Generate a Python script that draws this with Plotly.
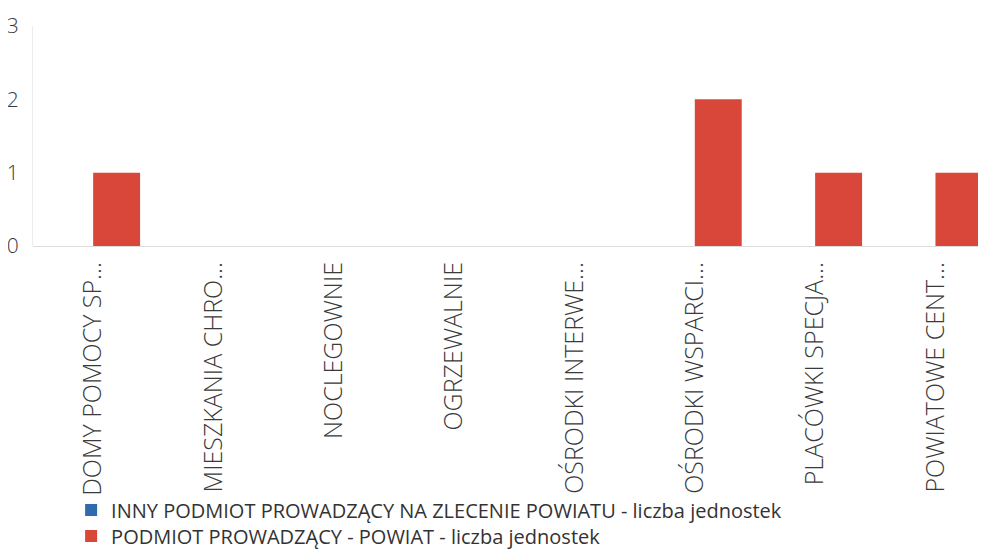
import plotly.graph_objects as go

categories = ["DOMY POMOCY SP...", "MIESZKANIA CHRO...", "NOCLEGOWNIE", "OGRZEWALNIE",
              "OŚRODKI INTERWE...", "OŚRODKI WSPARCI...", "PLACÓWKI SPECJA...", "POWIATOWE CENT..."]
inny_podmiot = [0, 0, 0, 0, 0, 0, 0, 0]
powiat = [1, 0, 0, 0, 0, 2, 1, 1]

fig = go.Figure()

fig.add_trace(
    go.Bar(x = categories,
           y = inny_podmiot,
           name = "INNY PODMIOT PROWADZĄCY NA ZLECENIE POWIATU - liczba jednostek",
           legend = "legend",
           marker = dict(color = "#2f6cae", line = dict(width = 0))))

fig.add_trace(
    go.Bar(x = categories,
           y = powiat,
           name = "PODMIOT PROWADZĄCY - POWIAT - liczba jednostek",
           legend = "legend2",
           marker = dict(color = "#d9473b", line = dict(width = 0))))

legend_style = dict(x = 0.04, xanchor = "left", yanchor = "middle",
                    font = dict(size = 20, color = "#333333"),
                    itemwidth = 30, bgcolor = "rgba(0,0,0,0)")

# page body adds an 8px offset, so margins are shifted to compensate
fig.update_layout(width = 986,
                  height = 554,
                  barmode = "group",
                  bargap = 0.22,
                  bargroupgap = 0,
                  plot_bgcolor = "white",
                  paper_bgcolor = "white",
                  font = dict(family = "Open Sans", size = 17, color = "#3a3a3a"),
                  margin = dict(l = 25, r = 8, t = 18, b = 316, autoexpand = False),
                  xaxis = dict(tickangle = -90, showgrid = False, showline = False,
                               range = [-0.5, 7.42], ticklabelstandoff = 10,
                               tickfont = dict(size = 25, weight = 300), automargin = False, ticks = ""),
                  yaxis = dict(range = [0, 3], tickvals = [0, 1, 2, 3], showgrid = False,
                               zeroline = True, zerolinecolor = "#dcdcdc", zerolinewidth = 1,
                               showline = True, linecolor = "#ececec", ticks = "",
                               ticklabelstandoff = 9, ticklabeloverflow = "allow",
                               tickfont = dict(size = 21, weight = 300), automargin = False),
                  showlegend = True,
                  legend = dict(y = -1.2, **legend_style),
                  legend2 = dict(y = -1.318, **legend_style))

fig.write_html("out.html")
